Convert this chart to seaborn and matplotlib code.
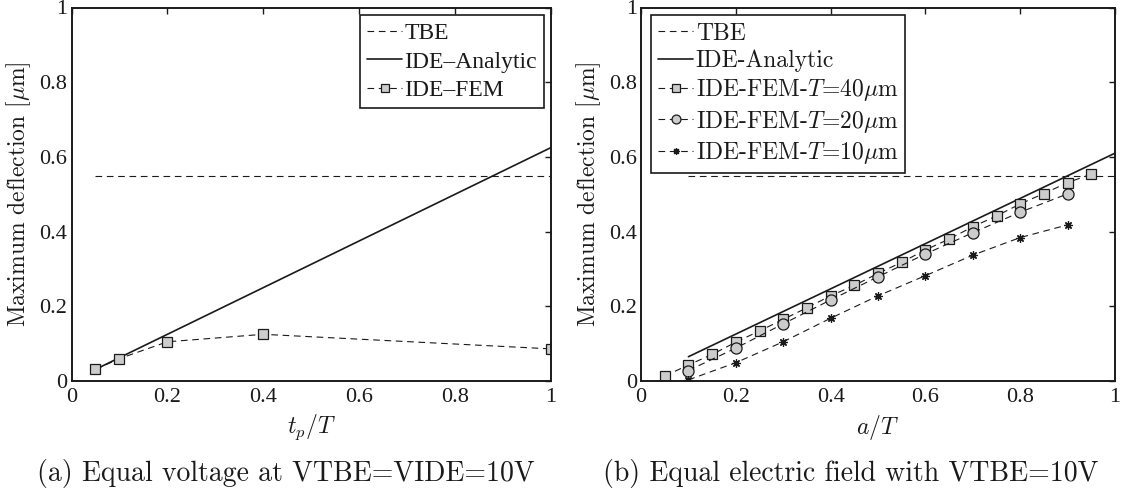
import numpy as np
import pandas as pd
import matplotlib
matplotlib.use("Agg")
import matplotlib.pyplot as plt
import seaborn as sns

# ---- (a) equal voltage: deflection vs t_p/T ----
a_x = [0.05, 0.1, 0.2, 0.4, 1.0]
a_tbe = [0.55, 0.55, 0.55, 0.55, 0.55]
a_analytic = [0.031, 0.0625, 0.125, 0.25, 0.625]
a_fem = [0.031, 0.060, 0.105, 0.125, 0.086]

# ---- (b) equal electric field: deflection vs a/T ----
b_tbe_x = [0.1, 1.0]
b_tbe = [0.55, 0.55]
b_analytic_x = [0.1, 1.0]
b_analytic = [0.065, 0.61]
b_x40 = [0.05, 0.1, 0.15, 0.2, 0.25, 0.3, 0.35, 0.4, 0.45, 0.5,
         0.55, 0.6, 0.65, 0.7, 0.75, 0.8, 0.85, 0.9, 0.95]
b_fem40 = [0.013, 0.043, 0.071, 0.104, 0.134, 0.165, 0.196, 0.228, 0.256, 0.288,
           0.318, 0.351, 0.380, 0.413, 0.442, 0.474, 0.502, 0.531, 0.554]
b_x20 = [0.1, 0.2, 0.3, 0.4, 0.5, 0.6, 0.7, 0.8, 0.9]
b_fem20 = [0.028, 0.088, 0.153, 0.217, 0.279, 0.340, 0.397, 0.452, 0.501]
b_x10 = [0.1, 0.2, 0.3, 0.4, 0.5, 0.6, 0.7, 0.8, 0.9]
b_fem10 = [0.003, 0.049, 0.105, 0.168, 0.228, 0.282, 0.337, 0.384, 0.418]

ticks = [0, 0.2, 0.4, 0.6, 0.8, 1]
tick_labels = ["0", "0.2", "0.4", "0.6", "0.8", "1"]

sns.set_theme(style="white")
plt.rcParams["font.family"] = ["cmr10", "DejaVu Serif"]
plt.rcParams["mathtext.fontset"] = "cm"
plt.rcParams["axes.formatter.use_mathtext"] = True
plt.rcParams["axes.unicode_minus"] = False

TIMES = ["Liberation Serif", "DejaVu Serif"]
FS_TICK = 16
FS_LABEL = 17
FS_LEG_A = 17
FS_LEG_B = 17
FS_CAP = 20
GRAY = "#cccccc"
DASH = (0, (6.0, 4.2))
LW_D = 0.8
LW_S = 1.2

fig = plt.figure(figsize=(11.34, 4.93), dpi=100)
ax1 = fig.add_axes([71.5 / 1134, 112 / 493, 479.5 / 1134, 373.5 / 493])
ax2 = fig.add_axes([641 / 1134, 112 / 493, 474 / 1134, 373.5 / 493])


def style_axes(ax, xlabel):
    ax.set_xlim(0, 1)
    ax.set_ylim(0, 1)
    ax.set_xticks(ticks)
    ax.set_xticklabels(tick_labels, family=TIMES, fontsize=FS_TICK)
    ax.set_yticks(ticks)
    ax.set_yticklabels(tick_labels, family=TIMES, fontsize=FS_TICK)
    ax.tick_params(direction="in", length=4, width=1.0, top=True, right=True,
                   colors="k")
    ax.tick_params(axis="x", pad=5)
    ax.tick_params(axis="y", pad=3)
    for s in ax.spines.values():
        s.set_visible(True)
        s.set_color("k")
        s.set_linewidth(1.4)
    ax.set_xlabel(xlabel, fontsize=FS_LABEL, color="k")
    ax.set_ylabel(r"Maximum deflection [$\mu$m]", fontsize=FS_LABEL, color="k")
    ax.xaxis.set_label_coords(0.5, -0.085)
    ax.yaxis.set_label_coords(-0.08, 0.5)
    ax.set_facecolor("white")


# panel (a)
sns.lineplot(x=a_x, y=a_tbe, ax=ax1, color="k", lw=LW_D, linestyle=DASH, label="TBE")
sns.lineplot(x=a_x, y=a_analytic, ax=ax1, color="k", lw=LW_S, label="IDE\u2013Analytic")
sns.lineplot(x=a_x, y=a_fem, ax=ax1, color="k", lw=LW_D, linestyle=DASH,
             marker="s", markersize=6.5, markerfacecolor=GRAY, markeredgecolor="k",
             markeredgewidth=0.9, label="IDE\u2013FEM")
style_axes(ax1, r"$t_p/T$")

# panel (b)
sns.lineplot(x=b_tbe_x, y=b_tbe, ax=ax2, color="k", lw=LW_D, linestyle=DASH, label="TBE")
sns.lineplot(x=b_analytic_x, y=b_analytic, ax=ax2, color="k", lw=LW_S, label="IDE-Analytic")
sns.lineplot(x=b_x40, y=b_fem40, ax=ax2, color="k", lw=LW_D, linestyle=DASH,
             marker="s", markersize=6.5, markerfacecolor=GRAY, markeredgecolor="k",
             markeredgewidth=0.9, label=r"IDE-FEM-$T$=40$\mu$m")
sns.lineplot(x=b_x20, y=b_fem20, ax=ax2, color="k", lw=LW_D, linestyle=DASH,
             marker="o", markersize=8, markerfacecolor=GRAY, markeredgecolor="k",
             markeredgewidth=0.9, label=r"IDE-FEM-$T$=20$\mu$m")
sns.lineplot(x=b_x10, y=b_fem10, ax=ax2, color="k", lw=LW_D, linestyle=DASH,
             marker=(8, 2, 0), markersize=6, markeredgecolor="k",
             markeredgewidth=0.9, label=r"IDE-FEM-$T$=10$\mu$m")
style_axes(ax2, r"$a/T$")


def style_legend(ax, loc, anchor, fs, family=None, spacing=0.3):
    prop = {"size": fs}
    if family:
        prop["family"] = family
    leg = ax.legend(loc=loc, bbox_to_anchor=anchor, prop=prop, frameon=True,
                    fancybox=False, framealpha=1, edgecolor="k", handlelength=1.5,
                    handletextpad=0.1, labelspacing=spacing, borderpad=0.3,
                    borderaxespad=0.0, markerscale=0.8)
    leg.get_frame().set_linewidth(1.2)
    for t in leg.get_texts():
        t.set_color("k")


style_legend(ax1, "upper right", (0.986, 0.979), FS_LEG_A, TIMES, 0.3)
style_legend(ax2, "upper left", (0.021, 0.979), FS_LEG_B, None, 0.22)

fig.text(286 / 1134, 20 / 493, "(a) Equal voltage at VTBE=VIDE=10V",
         ha="center", va="center", fontsize=FS_CAP, color="k")
fig.text(851 / 1134, 20 / 493, "(b) Equal electric field with VTBE=10V",
         ha="center", va="center", fontsize=FS_CAP, color="k")

fig.savefig("out.png", dpi=100, facecolor="white")
